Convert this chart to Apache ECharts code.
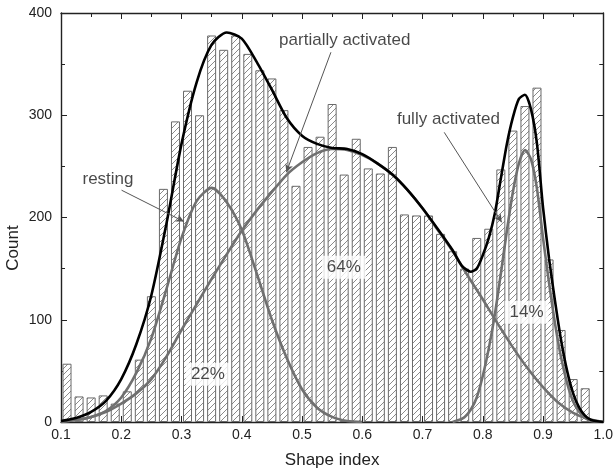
<!DOCTYPE html>
<html><head><meta charset="utf-8">
<script src="https://cdn.jsdelivr.net/npm/echarts@6/dist/echarts.min.js"></script>
<style>html,body{margin:0;padding:0;background:#fff}#c{width:616px;height:476px}</style>
</head><body><div id="c"></div>
<script>
// ---- data ----
const binCenters = [0.11,0.13,0.15,0.17,0.19,0.21,0.23,0.25,0.27,0.29,0.31,0.33,0.35,0.37,0.39,0.41,0.43,0.45,0.47,0.49,0.51,0.53,0.55,0.57,0.59,0.61,0.63,0.65,0.67,0.69,0.71,0.73,0.75,0.77,0.79,0.81,0.83,0.85,0.87,0.89,0.91,0.93,0.95,0.97];
const counts = [57,25,24,26,18,30,61,123,228,294,324,300,378,364,378,360,344,336,305,231,269,279,311,242,277,248,243,269,203,202,202,184,167,150,180,189,247,285,309,327,159,90,42,33];

const restingX = [0.10,0.125,0.15,0.175,0.20,0.225,0.25,0.275,0.30,0.325,0.35,0.375,0.40,0.425,0.45,0.475,0.50,0.525,0.55,0.575,0.60];
const restingY = [1,2,5,11,24,48,82,130,180,216,229,215,188,145,100,62,32,14,5,1,0];
const partialX = [0.10,0.125,0.15,0.175,0.20,0.225,0.25,0.275,0.30,0.325,0.35,0.375,0.40,0.425,0.45,0.475,0.50,0.525,0.55,0.575,0.60,0.625,0.65,0.675,0.70,0.725,0.75,0.775,0.80,0.825,0.85,0.875,0.90,0.925,0.95,0.975,1.00];
const partialY = [0,2,5,10,18,28,42,64,90,115,140,164,187,207,225,242,254,263,267,266,261,253,242,227,209,188,167,143,120,96,73,52,34,19,9,3,0];
const fullyX = [0.75,0.76,0.77,0.78,0.79,0.80,0.81,0.82,0.83,0.84,0.85,0.86,0.87,0.88,0.89,0.90,0.91,0.92,0.93,0.94,0.95,0.96,0.97,0.98,1.00];
const fullyY = [0,2,5,12,24,45,72,105,145,187,225,253,266,257,228,180,136,96,63,38,20,10,4,1,0];
const totalX = [0.10,0.125,0.15,0.175,0.20,0.225,0.25,0.275,0.30,0.325,0.35,0.375,0.40,0.425,0.45,0.475,0.50,0.525,0.55,0.575,0.60,0.625,0.65,0.675,0.70,0.725,0.75,0.765,0.78,0.79,0.80,0.81,0.82,0.83,0.84,0.85,0.86,0.87,0.88,0.89,0.90,0.91,0.92,0.93,0.94,0.95,0.96,0.97,0.98,1.00];
const totalY = [1,4,10,21,42,76,124,194,272,332,369,381,375,352,325,297,280,272,268,267,262,253,242,227,209,189,168,153,147,150,163,180,204,238,272,298,316,320,306,272,210,160,118,80,50,28,14,6,2,0];

const annotTexts = ['resting','partially activated','fully activated'];
const annotPos = [[0.178,236.9],[0.571,372.8],[0.743,296.5]];
const arrows = [[0.2005,226.7,0.304,196],[0.548,361.6,0.474,244.2],[0.736,283.3,0.8315,195.3]];
const pctTexts = ['22%','64%','14%'];
const pctPos = [[0.3438,46.6],[0.5695,151.3],[0.8727,107.3]];

const xTickMin = 0.1, xTickMax = 1.0, xTickStep = 0.1;
const yTickMin = 0, yTickMax = 400, yTickStep = 100;

// ---- chart ----
function hatch(){
  const s=6, c=document.createElement('canvas'); c.width=s; c.height=s;
  const g=c.getContext('2d'); g.fillStyle='#fff'; g.fillRect(0,0,s,s);
  g.strokeStyle='#8a8a8a'; g.lineWidth=1;
  g.beginPath();
  g.moveTo(0,s); g.lineTo(s,0);
  g.moveTo(-1,1); g.lineTo(1,-1);
  g.moveTo(s-1,s+1); g.lineTo(s+1,s-1);
  g.stroke();
  return c;
}
const zip = (xs,ys)=>xs.map((x,i)=>[x,ys[i]]);
const FONT = 'Liberation Sans, Arial, sans-serif';
const frame = {show:true, onZero:false, lineStyle:{color:'#222', width:1.4}};
const tick = {show:true, inside:true, length:6, lineStyle:{color:'#222'}};
const minor = {show:true, splitNumber:2, length:4, lineStyle:{color:'#222'}};
const chart = echarts.init(document.getElementById('c'), null, {renderer:'canvas'});
const curve = (name,xs,ys,color)=>({
  type:'line', name, data:zip(xs,ys), smooth:0.25, symbol:'none',
  lineStyle:{color, width:2.6}, z:3, silent:true
});
const textLayer = (xy, texts, extra, z)=>({
  type:'scatter', silent:true, z, symbolSize:1, itemStyle:{color:'rgba(0,0,0,0)'},
  data:xy.map((p,i)=>({value:[p[0],p[1]], label:{formatter:texts[i]}})),
  label:Object.assign({show:true, position:'inside', fontFamily:FONT, fontSize:17, color:'#1a1a1a'}, extra)
});
const annot = textLayer(annotPos, annotTexts, {}, 5);
annot.markLine = {silent:true, symbol:['none','arrow'], symbolSize:[6,8], label:{show:false},
  lineStyle:{color:'#555', width:1, type:'solid'},
  data:arrows.map(a=>[{coord:[a[0],a[1]]},{coord:[a[2],a[3]]}])};
chart.setOption({
  animation:false,
  backgroundColor:'#fff',
  grid:{left:61, right:9, top:13, bottom:54},
  xAxis:[
    {type:'value', min:xTickMin, max:xTickMax, interval:xTickStep, position:'bottom',
     axisLine:frame, splitLine:{show:false}, axisTick:tick, minorTick:minor,
     axisLabel:{fontFamily:FONT, fontSize:14, color:'#222', margin:6, formatter:v=>v.toFixed(1)},
     name:'Shape index', nameLocation:'middle', nameGap:30,
     nameTextStyle:{fontFamily:FONT, fontSize:17, color:'#222'}},
    {type:'value', min:xTickMin, max:xTickMax, interval:xTickStep, position:'top',
     axisLine:frame, splitLine:{show:false}, axisLabel:{show:false}, axisTick:tick, minorTick:minor}
  ],
  yAxis:[
    {type:'value', min:yTickMin, max:yTickMax, interval:yTickStep, position:'left',
     axisLine:frame, splitLine:{show:false}, axisTick:tick, minorTick:minor,
     axisLabel:{fontFamily:FONT, fontSize:14, color:'#222', margin:9}},
    {type:'value', min:yTickMin, max:yTickMax, interval:yTickStep, position:'right',
     axisLine:frame, splitLine:{show:false}, axisLabel:{show:false}, axisTick:tick, minorTick:minor}
  ],
  graphic:[{type:'text', x:13, y:248, rotation:Math.PI/2,
    style:{text:'Count', fontFamily:FONT, fontSize:17, fill:'#222', textAlign:'center', textVerticalAlign:'middle'}}],
  series:[
    {type:'bar', data:zip(binCenters,counts), barWidth:9, silent:true, z:2,
     itemStyle:{color:{image:hatch(), repeat:'repeat'}, borderColor:'#6a6a6a', borderWidth:1}},
    curve('resting',restingX,restingY,'#707070'),
    curve('partial',partialX,partialY,'#707070'),
    curve('fully',fullyX,fullyY,'#707070'),
    curve('total',totalX,totalY,'#000'),
    annot,
    textLayer(pctPos, pctTexts, {backgroundColor:'#fff', padding:[3,5]}, 6)
  ]
});
</script></body></html>
